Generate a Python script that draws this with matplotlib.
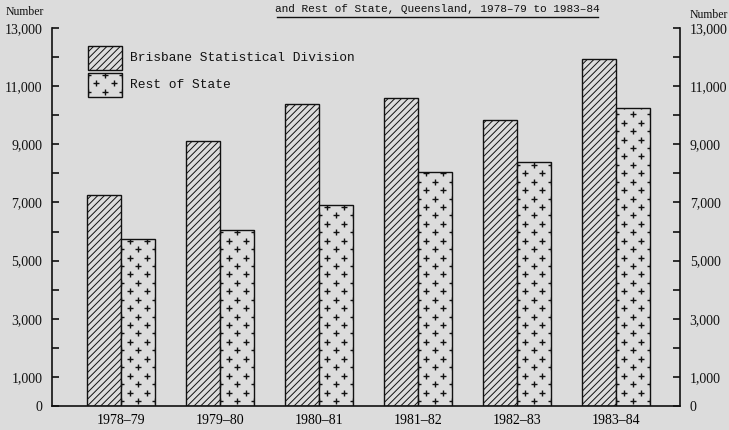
import matplotlib.pyplot as plt
import numpy as np
from matplotlib.ticker import FixedLocator, FuncFormatter

years = ["1978\u201379", "1979\u201380", "1980\u201381", "1981\u201382", "1982\u201383", "1983\u201384"]
brisbane = [7250, 9100, 10400, 10600, 9850, 11950]
rest_of_state = [5750, 6050, 6900, 8050, 8400, 10250]

bg = "#dcdcdc"
ink = "#111111"
plt.rcParams["hatch.linewidth"] = 0.7
plt.rcParams["hatch.color"] = "#222222"

fig = plt.figure(figsize=(7.29, 4.30), dpi=100, facecolor=bg)
ax = fig.add_axes([0.0713, 0.0558, 0.8615, 0.8791], facecolor=bg)

x = np.arange(len(years))
w = 0.343
b1 = ax.bar(x - w / 2, brisbane, w, color=bg, edgecolor=ink, linewidth=1.0, hatch="/////")
b2 = ax.bar(x + w / 2, rest_of_state, w, color=bg, edgecolor=ink, linewidth=1.0)


def crosses(patch, x0, y0, wd, ht, dy, **kw):
    # staggered small crosses clipped to the patch
    px, py = [], []
    for r, yy in enumerate(np.arange(y0 + dy * 0.6, y0 + ht + dy, dy)):
        cols = [0.0, 0.5, 1.0] if r % 2 == 0 else [0.25, 0.75]
        for c in cols:
            px.append(x0 + c * wd)
            py.append(yy)
    sc = ax.scatter(px, py, marker="+", s=24, linewidths=1.0, color=ink, zorder=3, **kw)
    sc.set_clip_path(patch)
    return sc


for bar in b2:
    crosses(bar, bar.get_x(), 0, bar.get_width(), bar.get_height(), 290)

ax.set_xlim(-0.7, 5.65)
ax.set_ylim(0, 13000)

ax.spines["top"].set_visible(False)
for s in ["left", "right", "bottom"]:
    ax.spines[s].set_linewidth(1.2)
    ax.spines[s].set_color(ink)

major = [0, 1000, 3000, 5000, 7000, 9000, 11000, 13000]
minor = [2000, 4000, 6000, 8000, 10000, 12000]
ax.yaxis.set_major_locator(FixedLocator(major))
ax.yaxis.set_minor_locator(FixedLocator(minor))
ax.yaxis.set_major_formatter(FuncFormatter(lambda v, p: f"{int(v):,}"))
ax.tick_params(axis="y", which="both", direction="in", length=5, width=1.2,
               left=True, right=True, labelleft=True, labelright=True,
               labelsize=10, pad=7, colors=ink)

ax.set_xticks(x)
ax.set_xticklabels(years, fontfamily="Liberation Serif", fontsize=10)
ax.tick_params(axis="x", length=0, pad=6)
for lab in ax.get_yticklabels():
    lab.set_fontfamily("Liberation Serif")

# legend
leg_items = [("Brisbane Statistical Division", "/////", 0.048), ("Rest of State", None, 0.118)]
for text, hatch, top in leg_items:
    r = plt.Rectangle((0.057, 1 - top - 0.064), 0.055, 0.064, transform=ax.transAxes,
                      facecolor=bg, edgecolor=ink, linewidth=1.0, hatch=hatch, clip_on=False)
    ax.add_patch(r)
    ax.text(0.124, 1 - top - 0.032, text, transform=ax.transAxes, va="center", ha="left",
            fontfamily="Liberation Mono", fontsize=9.3, color=ink)
    if hatch is None:
        crosses(r, 0.057, 1 - top - 0.064, 0.055, 0.064, 0.022, transform=ax.transAxes)

fig.text(0.008, 0.972, "Number", fontfamily="Liberation Serif", fontsize=8.5, color=ink,
         va="center", ha="left")
fig.text(0.946, 0.965, "Number", fontfamily="Liberation Serif", fontsize=8.5, color=ink,
         va="center", ha="left")

fig.text(0.60, 0.980, "and Rest of State, Queensland, 1978\u201379 to 1983\u201384",
         fontfamily="Liberation Mono", fontsize=8, color=ink, ha="center", va="center")
fig.add_artist(plt.Line2D([0.38, 0.82], [0.960, 0.960], color=ink, linewidth=1.0,
                          transform=fig.transFigure))

fig.savefig("out.png", dpi=100, facecolor=bg)
